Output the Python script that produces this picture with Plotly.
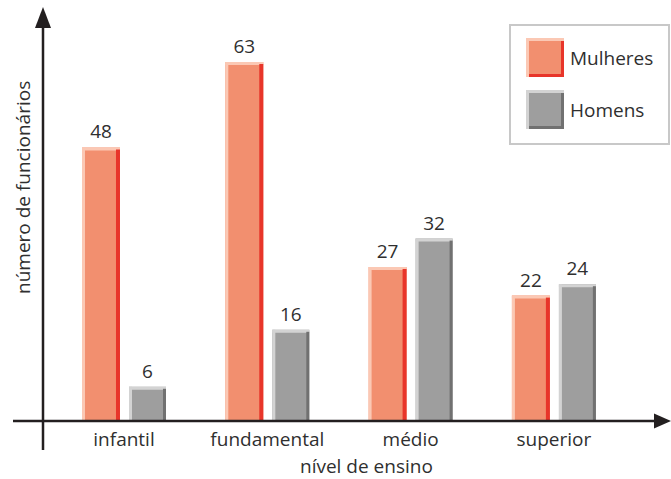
import plotly.graph_objects as go

categories = ["infantil", "fundamental", "médio", "superior"]
mulheres = [48, 63, 27, 22]
homens = [6, 16, 32, 24]
series_names = ["Mulheres", "Homens"]
x_title = "nível de ensino"
y_title = "número de funcionários"

FONT = "Open Sans"
TXT = "#2f2f2f"
AX = "#231f20"
FS = 19

W, H = 671, 479
ML, MR, MT, MB = 43, 3, 8, 58
PW, PH = W - ML - MR, H - MT - MB
SP = 143.3  # px per category
X0 = -(124 - ML) / SP
XR = [X0, X0 + PW / SP]
PXU = 5.7
YR = [0, PH / PXU]

def px2x(px):
    return (px - ML) / PW

def py2y(py):
    return (H - MB - py) / PH

xs = list(range(len(categories)))
dx = 1 / SP  # one pixel in x data units
dy = 1 / PXU  # one pixel in y data units

styles = {
    "Mulheres": dict(main="#f28f6f", light="#fbc8b4", dark="#e8352a", off=-0.293, w=0.265, rw=4),
    "Homens": dict(main="#9e9e9e", light="#d3d3d3", dark="#717171", off=0.035, w=0.258, rw=3),
}

fig = go.Figure()
for name, vals in zip(series_names, [mulheres, homens]):
    s = styles[name]
    fig.add_trace(go.Bar(x=xs, y=vals, offset=s["off"], width=s["w"],
                         marker=dict(color=s["main"], line=dict(width=0)),
                         text=[str(v) for v in vals], textposition="outside",
                         textfont=dict(family=FONT, size=FS, color=TXT),
                         cliponaxis=False, name=name, showlegend=False))
    fig.add_trace(go.Bar(x=xs, y=[3 * dy] * len(vals), base=[v - 3 * dy for v in vals],
                         offset=s["off"], width=s["w"],
                         marker=dict(color=s["light"], line=dict(width=0)),
                         showlegend=False, hoverinfo="skip"))
    fig.add_trace(go.Bar(x=xs, y=vals, offset=s["off"], width=3 * dx,
                         marker=dict(color=s["light"], line=dict(width=0)),
                         showlegend=False, hoverinfo="skip"))
    fig.add_trace(go.Bar(x=xs, y=[v - 2 * dy for v in vals], offset=s["off"] + s["w"] - s["rw"] * dx,
                         width=s["rw"] * dx,
                         marker=dict(color=s["dark"], line=dict(width=0)),
                         showlegend=False, hoverinfo="skip"))

shapes = []
shapes.append(dict(type="line", xref="paper", yref="paper", x0=px2x(43), x1=px2x(43),
                   y0=py2y(450), y1=py2y(26), line=dict(color=AX, width=2.5)))
shapes.append(dict(type="path", xref="paper", yref="paper",
                   path=f"M {px2x(43)} {py2y(7)} L {px2x(35)} {py2y(28)} L {px2x(51)} {py2y(28)} Z",
                   fillcolor=AX, line=dict(color=AX, width=0)))
shapes.append(dict(type="line", xref="paper", yref="paper", x0=px2x(13), x1=px2x(656),
                   y0=py2y(421), y1=py2y(421), line=dict(color=AX, width=2.5)))
shapes.append(dict(type="path", xref="paper", yref="paper",
                   path=f"M {px2x(671)} {py2y(421)} L {px2x(654)} {py2y(413.5)} L {px2x(654)} {py2y(428.5)} Z",
                   fillcolor=AX, line=dict(color=AX, width=0)))

shapes.append(dict(type="rect", xref="paper", yref="paper", x0=px2x(510), x1=px2x(669),
                   y0=py2y(144), y1=py2y(25), line=dict(color="#c8c8c8", width=2), fillcolor="white"))
annotations = []
for name, (top, bot) in zip(series_names, [(38, 77), (90, 129)]):
    s = styles[name]
    l, r = 526, 564
    shapes.append(dict(type="rect", xref="paper", yref="paper", x0=px2x(l), x1=px2x(r),
                       y0=py2y(bot), y1=py2y(top), fillcolor=s["light"], line=dict(width=0)))
    shapes.append(dict(type="rect", xref="paper", yref="paper", x0=px2x(l + 3), x1=px2x(r),
                       y0=py2y(bot), y1=py2y(top + 3), fillcolor=s["dark"], line=dict(width=0)))
    shapes.append(dict(type="rect", xref="paper", yref="paper", x0=px2x(l + 3), x1=px2x(r - 3),
                       y0=py2y(bot - 3), y1=py2y(top + 3), fillcolor=s["main"], line=dict(width=0)))
    annotations.append(dict(xref="paper", yref="paper", x=px2x(568), y=py2y((top + bot) / 2),
                            text=name, showarrow=False, xanchor="left", yanchor="middle",
                            font=dict(family=FONT, size=FS, color=TXT)))

annotations.append(dict(xref="paper", yref="paper", x=px2x(366), y=py2y(466), text=x_title,
                        showarrow=False, xanchor="center", yanchor="middle",
                        font=dict(family=FONT, size=FS, color=TXT)))
annotations.append(dict(xref="paper", yref="paper", x=px2x(23), y=py2y(188), text=y_title,
                        showarrow=False, xanchor="center", yanchor="middle", textangle=-90,
                        font=dict(family=FONT, size=FS, color=TXT)))

fig.update_layout(
    width=W, height=H,
    margin=dict(l=ML, r=MR, t=MT, b=MB, pad=0),
    paper_bgcolor="white", plot_bgcolor="white",
    barmode="overlay", showlegend=False,
    shapes=shapes, annotations=annotations,
    xaxis=dict(range=XR, tickvals=xs, ticktext=categories, showgrid=False, zeroline=False,
               showline=False, ticks="", tickfont=dict(family=FONT, size=FS, color=TXT),
               ticklabelstandoff=5, fixedrange=True),
    yaxis=dict(range=YR, showgrid=False, zeroline=False, showline=False,
               showticklabels=False, ticks="", fixedrange=True),
)

fig.write_html("out.html", config={"displayModeBar": False},
               post_script="document.body.style.margin='0';document.body.style.overflow='hidden';")
